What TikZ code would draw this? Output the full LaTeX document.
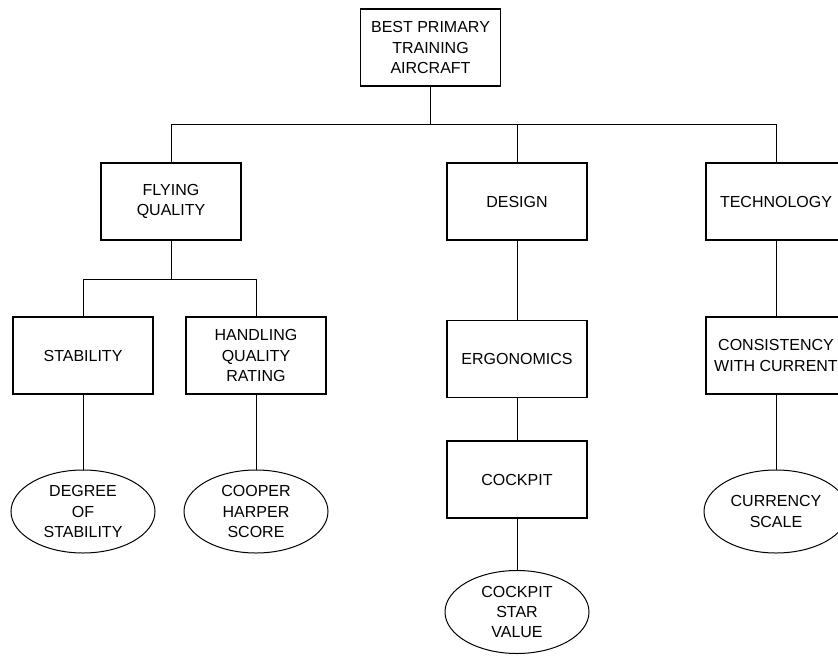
\documentclass[tikz,border=0pt]{standalone}
\usepackage{fontspec}
\setmainfont{Liberation Sans}
\usetikzlibrary{shapes.geometric}
\begin{document}
\begin{tikzpicture}[x=1pt,y=-1pt,
  every node/.style={font=\fontsize{16}{20.3}\selectfont, align=center, inner sep=0pt},
  critbox/.style={draw, line width=1.1pt, rectangle, minimum width=140pt, minimum height=77pt},
  measure/.style={draw, line width=1pt, ellipse, minimum width=144pt, minimum height=83pt},
  link/.style={line width=1pt}]
\useasboundingbox (0,0) rectangle (838,656);
\clip (0,0) rectangle (838,656);

% goal
\node[critbox] (goal) at (430.5,47.5) {BEST PRIMARY\\TRAINING\\AIRCRAFT};

% criteria
\node[critbox] (fq)   at (171,201.5) {FLYING\\QUALITY};
\node[critbox] (des)  at (517,201.5) {DESIGN};
\node[critbox] (tech) at (776,201.5) {TECHNOLOGY};

% sub-criteria
\node[critbox] (stab) at (83,355.5)  {STABILITY};
\node[critbox] (hqr)  at (256,355.5) {HANDLING\\QUALITY\\RATING};
\node[critbox] (ergo) at (517,359)   {ERGONOMICS};
\node[critbox] (cock) at (517,479.5) {COCKPIT};
\node[critbox] (cons) at (776,355.5) {CONSISTENCY\\WITH CURRENT};

% measures
\node[measure] (deg)  at (83,511.5)  {DEGREE\\OF\\STABILITY};
\node[measure] (chs)  at (256,511.5) {COOPER\\HARPER\\SCORE};
\node[measure] (star) at (517,612)   {COCKPIT\\STAR\\VALUE};
\node[measure] (cur)  at (776,511.5) {CURRENCY\\SCALE};

% branching bars
\coordinate (bar1) at (430.5,124);
\coordinate (bar2) at (171,279);

\draw[link] (goal.south) -- (goal.south |- bar1);
\draw[link] (fq.north) -- (fq.north |- bar1) -- (tech.north |- bar1) -- (tech.north);
\draw[link] (des.north) -- (des.north |- bar1);

\draw[link] (fq.south) -- (bar2);
\draw[link] (stab.north) -- (stab.north |- bar2) -- (hqr.north |- bar2) -- (hqr.north);

\draw[link] (des.south) -- (ergo.north);
\draw[link] (ergo.south) -- (cock.north);
\draw[link] (cock.south) -- (star.north);
\draw[link] (tech.south) -- (cons.north);
\draw[link] (cons.south) -- (cur.north);
\draw[link] (stab.south) -- (deg.north);
\draw[link] (hqr.south) -- (chs.north);
\end{tikzpicture}
\end{document}
